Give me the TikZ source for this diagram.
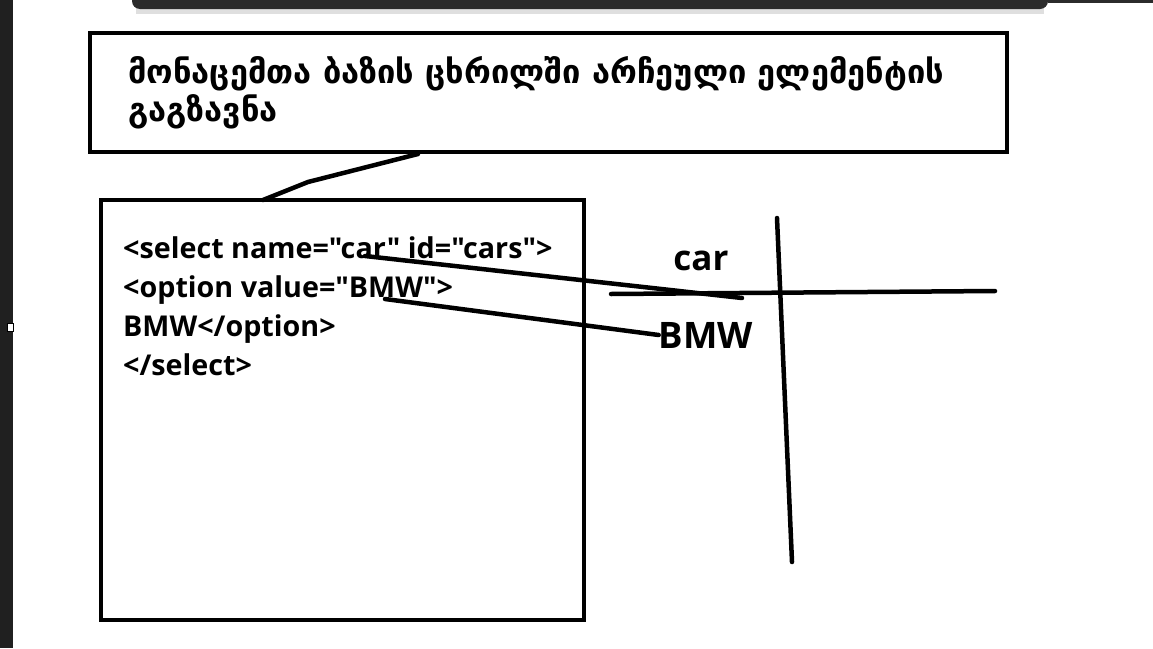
\documentclass[tikz,border=0pt]{standalone}
\usepackage{fontspec}
\newfontfamily\codefont{Open Sans}
\newfontfamily\geofont{DejaVu Sans}
\usepackage{tikz}

\definecolor{barcol}{RGB}{43,43,43}
\definecolor{stripcol}{RGB}{32,32,32}

\tikzset{
    pen/.style={line width=4.5pt, line cap=round, line join=round},
    boxline/.style={line width=4.5pt},
    codetext/.style={inner sep=0pt, anchor=north west, align=left, font=\codefont\bfseries\fontsize{28.7}{39}\selectfont},
    labeltext/.style={inner sep=0pt, font=\codefont\bfseries\fontsize{35}{40}\selectfont}
}

\begin{document}
\begin{tikzpicture}[x=1pt, y=-1pt]
        \useasboundingbox[fill=white] (0,0) rectangle (1153,648);
        % window frame
        \fill[gray!25] (136,0) rectangle (1044,14);
        \fill[barcol, rounded corners=8pt] (132,-20) rectangle (1048,9);
        \fill[barcol] (1048,0) rectangle (1153,3);
        \fill[stripcol] (0,0) rectangle (13,648);
        \draw[fill=white, line width=1pt] (7,323) rectangle (13,331);

        % boxes
        \draw[boxline] (90,33) rectangle (1007,152);
        \draw[boxline] (101,200) rectangle (584,620);
        \node[inner sep=0pt, anchor=north west, align=left, font=\geofont\bfseries\fontsize{32.6}{38}\selectfont] (title) at (128,56)
            {მონაცემთა ბაზის ცხრილში არჩეული ელემენტის\\გაგზავნა};
        \node[codetext] (code) at (123,236)
            {<select name="car" id="cars">\\<option value="BMW">\\BMW</option>\\</select>};

        % callout tail
        \coordinate (tailtop) at (418,154);
        \coordinate (tailmid) at (308,182);
        \coordinate (tailend) at (263,200);
        \draw[pen] (tailtop) -- (tailmid) -- (tailend);

        % labels and axes
        \node[labeltext] (lblcar) at (701,261) {car};
        \node[labeltext, font=\codefont\bfseries\fontsize{36.5}{40}\selectfont] (lblbmw) at (706,335) {BMW};

        \coordinate (carstart) at (365,256);
        \coordinate (carend) at (742,298);
        \coordinate (bmwstart) at (385,299);
        \draw[pen] (carstart) -- (carend);
        \draw[pen] (bmwstart) -- (lblbmw.west);

        \coordinate (hleft) at (611,294);
        \coordinate (hright) at (995,291);
        \coordinate (vtop) at (777,218);
        \coordinate (vbottom) at (792,562);
        \draw[pen] (hleft) -- (hright);
        \draw[pen] (vtop) -- (vbottom);
    \end{tikzpicture}
\end{document}
